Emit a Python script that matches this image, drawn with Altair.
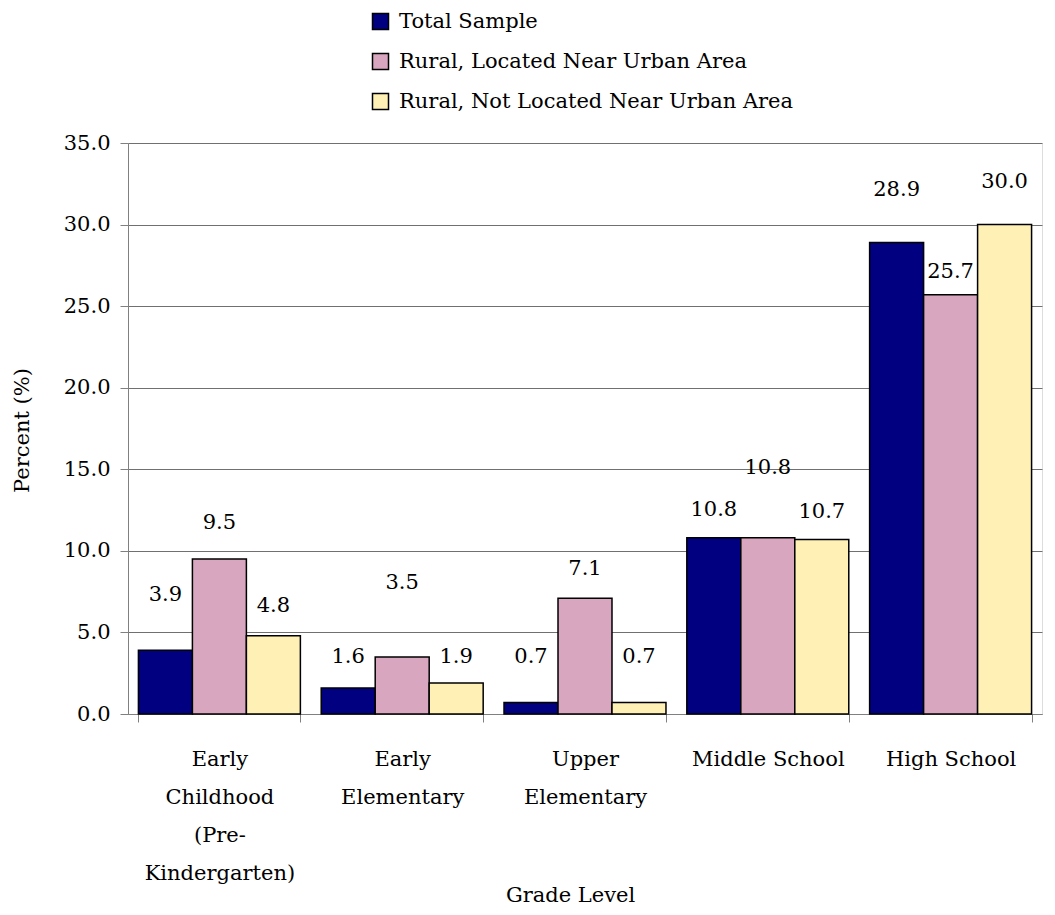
import altair as alt
import pandas as pd

categories = [
    "Early Childhood (Pre-Kindergarten)",
    "Early Elementary",
    "Upper Elementary",
    "Middle School",
    "High School",
]
series = [
    "Total Sample",
    "Rural, Located Near Urban Area",
    "Rural, Not Located Near Urban Area",
]
total_sample = [3.9, 1.6, 0.7, 10.8, 28.9]
rural_near = [9.5, 3.5, 7.1, 10.8, 25.7]
rural_not_near = [4.8, 1.9, 0.7, 10.7, 30.0]

# where the value labels sit (in axis units)
label_total = [7.3, 3.5, 3.5, 12.5, 32.1]
label_near = [11.7, 8.0, 8.9, 15.1, 27.1]
label_not_near = [6.6, 3.5, 3.5, 12.4, 32.6]

colors = ["#000080", "#d8a6bf", "#fff0b5"]

rows = []
for vals, labs, s in [
    (total_sample, label_total, series[0]),
    (rural_near, label_near, series[1]),
    (rural_not_near, label_not_near, series[2]),
]:
    for c, v, lp in zip(categories, vals, labs):
        rows.append({"grade": c, "series": s, "value": v, "labpos": lp,
                     "text": f"{v:.1f}"})
df = pd.DataFrame(rows)

FONT = "DejaVu Serif"
FS = 21

label_expr = (
    "datum.value == 'Early Childhood (Pre-Kindergarten)' ? ['Early','Childhood','(Pre-','Kindergarten)'] : "
    "datum.value == 'Early Elementary' ? ['Early','Elementary'] : "
    "datum.value == 'Upper Elementary' ? ['Upper','Elementary'] : datum.label"
)

x = alt.X(
    "grade:N",
    sort=categories,
    scale=alt.Scale(paddingInner=0.114, paddingOuter=0.057),
    axis=alt.Axis(
        title="Grade Level",
        labelExpr=label_expr,
        labelAngle=0,
        labelFont=FONT,
        labelFontSize=FS,
        labelColor="black",
        labelLineHeight=38,
        labelPadding=26,
        labelLimit=300,
        tickBand="extent",
        tickSize=8,
        tickColor="#808080",
        domainColor="#808080",
        titleFont=FONT,
        titleFontSize=FS,
        titleFontWeight="normal",
        titleColor="black",
        titleX=442,
        titleY=181,
        titleBaseline="middle",
        titleAlign="center",
        grid=False,
    ),
)
xoff = alt.XOffset("series:N", sort=series)

bars = alt.Chart(df).mark_bar(stroke="black", strokeWidth=1.5).encode(
    x=x,
    xOffset=xoff,
    y=alt.Y(
        "value:Q",
        scale=alt.Scale(domain=[0, 35], nice=False),
        axis=alt.Axis(
            title="Percent (%)",
            values=[0, 5, 10, 15, 20, 25, 30, 35],
            format=".1f",
            labelFont=FONT,
            labelFontSize=FS,
            labelColor="black",
            labelPadding=10,
            tickSize=8,
            tickColor="#808080",
            domainColor="#808080",
            grid=True,
            gridColor="#707070",
            gridWidth=1,
            titleFont=FONT,
            titleFontSize=FS,
            titleFontWeight="normal",
            titleColor="black",
            titleX=-106,
            titleY=287,
            titleAngle=-90,
            titleBaseline="middle",
            titleAlign="center",
        ),
    ),
    color=alt.Color(
        "series:N",
        sort=series,
        scale=alt.Scale(domain=series, range=colors),
        legend=alt.Legend(
            title=None,
            orient="none",
            legendX=242,
            legendY=-132,
            symbolType="square",
            symbolSize=256,
            symbolStrokeColor="black",
            symbolStrokeWidth=1.5,
            labelFont=FONT,
            labelFontSize=FS,
            labelColor="black",
            labelOffset=8,
            rowPadding=17,
            labelLimit=600,
        ),
    ),
)

labels = alt.Chart(df).mark_text(
    font=FONT, fontSize=FS, color="black", baseline="middle", align="center"
).encode(
    x=alt.X("grade:N", sort=categories),
    xOffset=xoff,
    y=alt.Y("labpos:Q"),
    text="text:N",
)

chart = (
    alt.layer(bars, labels)
    .properties(
        width=914,
        height=571,
        autosize=alt.AutoSizeParams(type="none"),
        padding={"left": 120, "top": 135, "right": 5, "bottom": 193},
    )
    .configure_view(stroke=None)
    .configure(background="white")
)

chart.save("out.html", embed_options={"renderer": "svg", "actions": False})
